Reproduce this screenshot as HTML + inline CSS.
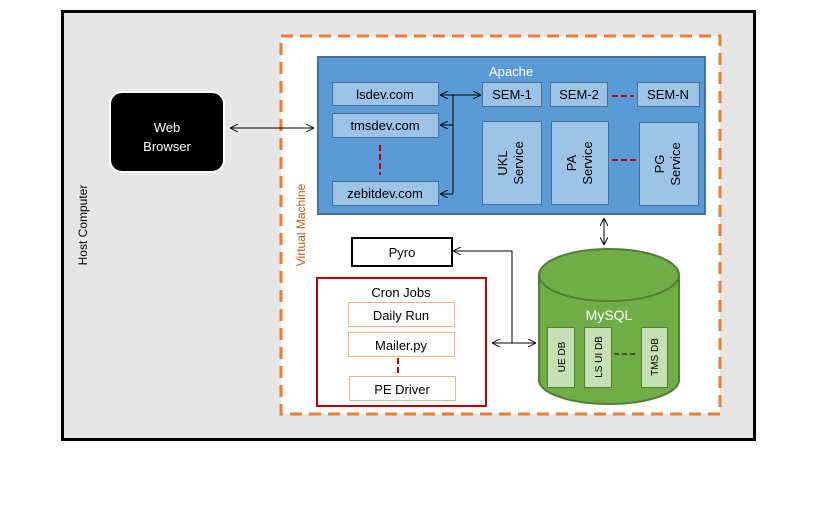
<!DOCTYPE html>
<html><head><meta charset="utf-8"><style>
html,body{margin:0;padding:0;background:#fff;}
svg{display:block;font-family:"Liberation Sans",sans-serif;}
</style></head><body>
<svg width="833" height="508" viewBox="0 0 833 508" xmlns="http://www.w3.org/2000/svg">
<defs>
<marker id="a" viewBox="0 0 10 10" refX="10" refY="5" markerWidth="8" markerHeight="8" orient="auto-start-reverse" markerUnits="userSpaceOnUse"><path d="M0,0 L10,5 L0,10" fill="none" stroke="#000" stroke-width="1.2"/></marker>
</defs>
<rect x="62.5" y="11.5" width="692" height="428" fill="#e6e6e6" stroke="#000" stroke-width="3"/>
<text x="87" y="225" font-size="12" transform="rotate(-90 87 225)" text-anchor="middle">Host Computer</text>
<rect x="110" y="92" width="114" height="80" rx="12" fill="#000" stroke="#fff" stroke-width="2"/>
<text x="167" y="132" font-size="13" fill="#fff" text-anchor="middle">Web</text>
<text x="167" y="151" font-size="13" fill="#fff" text-anchor="middle">Browser</text>
<rect x="281" y="36" width="439" height="378" fill="#fff" stroke="#ed7d31" stroke-width="3" stroke-dasharray="12,7"/>
<text x="305" y="225" font-size="12" fill="#c55a11" transform="rotate(-90 305 225)" text-anchor="middle">Virtual Machine</text>
<line x1="230" y1="128" x2="314" y2="128" stroke="#000" marker-start="url(#a)" marker-end="url(#a)"/>
<rect x="318" y="57" width="387" height="157" fill="#5b9bd5" stroke="#41719c" stroke-width="2"/>
<text x="511" y="76" font-size="13" fill="#fff" text-anchor="middle">Apache</text>
<g fill="#9dc3e6" stroke="#41719c" stroke-width="1">
<rect x="332.5" y="82.5" width="106" height="23"/>
<rect x="332.5" y="113.5" width="106" height="24"/>
<rect x="332.5" y="181.5" width="106" height="24"/>
<rect x="482.5" y="82.5" width="59" height="24"/>
<rect x="550.5" y="82.5" width="57" height="24"/>
<rect x="637.5" y="82.5" width="62" height="24"/>
<rect x="482.5" y="121.5" width="59" height="83"/>
<rect x="551.5" y="121.5" width="57" height="83"/>
<rect x="639.5" y="122.5" width="59" height="83"/>
</g>
<g font-size="13" text-anchor="middle" fill="#000">
<text x="385" y="99">lsdev.com</text>
<text x="385" y="130">tmsdev.com</text>
<text x="385" y="198">zebitdev.com</text>
<text x="512" y="99">SEM-1</text>
<text x="579" y="99">SEM-2</text>
<text x="668" y="99">SEM-N</text>
<text transform="translate(507 163) rotate(-90)" x="0" y="0">UKL</text>
<text transform="translate(523 163) rotate(-90)" x="0" y="0">Service</text>
<text transform="translate(576 163) rotate(-90)" x="0" y="0">PA</text>
<text transform="translate(592 163) rotate(-90)" x="0" y="0">Service</text>
<text transform="translate(664 164) rotate(-90)" x="0" y="0">PG</text>
<text transform="translate(680 164) rotate(-90)" x="0" y="0">Service</text>
</g>
<g stroke="#000" fill="none">
<line x1="453" y1="95" x2="453" y2="194"/>
<line x1="453" y1="95" x2="440" y2="95" marker-end="url(#a)"/>
<line x1="453" y1="125" x2="440" y2="125" marker-end="url(#a)"/>
<line x1="453" y1="194" x2="440" y2="194" marker-end="url(#a)"/>
<line x1="453" y1="95" x2="481" y2="95" marker-end="url(#a)"/>
<line x1="604" y1="218" x2="604" y2="245" marker-start="url(#a)" marker-end="url(#a)"/>
<polyline points="512,343 512,251 453,251" marker-end="url(#a)"/>
<line x1="492" y1="343" x2="536" y2="343" marker-start="url(#a)" marker-end="url(#a)"/>
</g>
<rect x="352" y="238" width="100" height="28" fill="#fff" stroke="#000" stroke-width="2"/>
<text x="402" y="257" font-size="13" text-anchor="middle">Pyro</text>
<rect x="317" y="278" width="169" height="128" fill="#fff" stroke="#c00000" stroke-width="2"/>
<text x="401" y="297" font-size="13" text-anchor="middle">Cron Jobs</text>
<g fill="#fff" stroke="#f4b183" stroke-width="1">
<rect x="348.5" y="302.5" width="106" height="24"/>
<rect x="348.5" y="332.5" width="106" height="24"/>
<rect x="349.5" y="376.5" width="106" height="24"/>
</g>
<g font-size="13" text-anchor="middle">
<text x="401" y="320">Daily Run</text>
<text x="401" y="350">Mailer.py</text>
<text x="402" y="394">PE Driver</text>
</g>
<g stroke="#c00000" stroke-width="2" stroke-dasharray="6,3">
<line x1="380" y1="145" x2="380" y2="175"/>
<line x1="612" y1="96" x2="634" y2="96"/>
<line x1="612" y1="160" x2="636" y2="160"/>
<line x1="398" y1="358" x2="398" y2="373"/>
</g>
<path d="M539,275 L539,380 A70,24 0 0 0 679,380 L679,275" fill="#70ad47" stroke="#507e32" stroke-width="2"/>
<ellipse cx="609" cy="275" rx="70" ry="26" fill="#70ad47" stroke="#507e32" stroke-width="2"/>
<text x="609" y="320" font-size="14" fill="#fff" text-anchor="middle">MySQL</text>
<g fill="#c5e0b4" stroke="#507e32" stroke-width="1">
<rect x="547.5" y="327.5" width="27" height="60"/>
<rect x="584.5" y="327.5" width="27" height="60"/>
<rect x="641.5" y="327.5" width="26" height="60"/>
</g>
<g font-size="10" text-anchor="middle">
<text transform="translate(565 357) rotate(-90)">UE DB</text>
<text transform="translate(602 357) rotate(-90)">LS UI DB</text>
<text transform="translate(658 357) rotate(-90)">TMS DB</text>
</g>
<line x1="614" y1="354" x2="637" y2="354" stroke="#385723" stroke-width="2" stroke-dasharray="5,3"/>
</svg>
</body></html>
